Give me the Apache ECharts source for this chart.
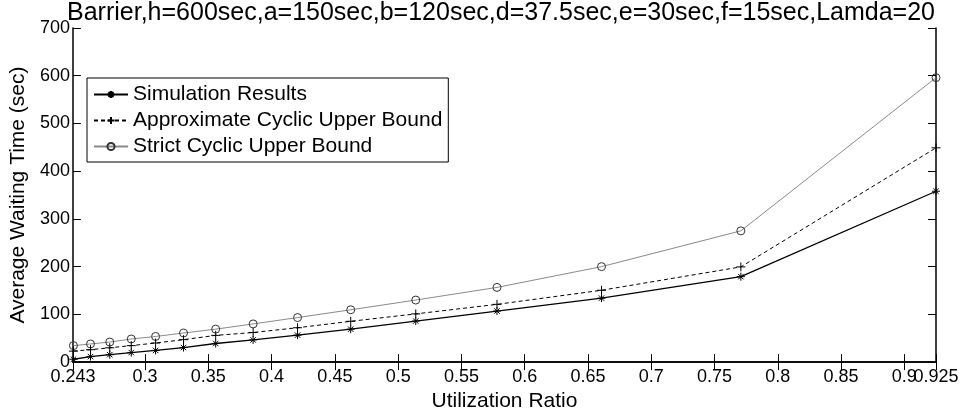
<!DOCTYPE html>
<html>
<head>
<meta charset="utf-8">
<script src="https://cdn.jsdelivr.net/npm/echarts/dist/echarts.min.js"></script>
<style>
html,body{margin:0;padding:0;background:#fff;}
#chart{width:962px;height:417px;}
</style>
</head>
<body>
<div id="chart"></div>
<script>
// ---- data ----
const titleText = 'Barrier,h=600sec,a=150sec,b=120sec,d=37.5sec,e=30sec,f=15sec,Lamda=20';
const seriesNames = ['Simulation Results', 'Approximate Cyclic Upper Bound', 'Strict Cyclic Upper Bound'];
const utilization = [0.2434, 0.2569, 0.2721, 0.2891, 0.3083, 0.3304, 0.3558, 0.3854, 0.4205, 0.4625, 0.5139, 0.5781, 0.6607, 0.7708, 0.925];
const simulation = [6, 11.5, 15.5, 20, 24.5, 30.5, 39, 46.5, 56.5, 69, 86, 107, 134, 179, 358];
const approxBound = [23, 26, 30, 34.5, 40, 47, 56, 62, 72, 85.5, 101, 121, 150.5, 199.5, 449];
const strictBound = [34.5, 38, 42, 48.4, 53.7, 61, 69, 80, 93.3, 109.6, 130, 156.5, 200, 275, 596];
const xTickValues = [0.243, 0.3, 0.35, 0.4, 0.45, 0.5, 0.55, 0.6, 0.65, 0.7, 0.75, 0.8, 0.85, 0.9, 0.925];
const xLabelsMain = [0.243, 0.3, 0.35, 0.4, 0.45, 0.5, 0.55, 0.6, 0.65, 0.7, 0.75, 0.8, 0.85, 0.925];
const xLabelsExtra = [0.9];
const yMin = 0, yMax = 700, yStep = 100;
const xMin = 0.243, xMax = 0.925;

const FONT = '"Liberation Sans", Arial, Helvetica, sans-serif';
const asterisk = 'path://M0,5L10,5M5,0L5,10M1.6,1.6L8.4,8.4M1.6,8.4L8.4,1.6';
const plus = 'path://M0,5L10,5M5,0L5,10';

function pairs(ys){ return utilization.map((u,i)=>[u, ys[i]]); }

const chart = echarts.init(document.getElementById('chart'), null, {renderer:'canvas'});
const axisLineStyle = {color:'#000', width:1.5};
const labelStyle = {fontFamily:FONT, fontSize:18, color:'#000'};
chart.setOption({
  animation:false,
  backgroundColor:'#fff',
  textStyle:{fontFamily:FONT, color:'#000'},
  title:{
    text:titleText, left:501, top:1, textAlign:'center', padding:0,
    textStyle:{fontFamily:FONT, fontSize:25, fontWeight:'normal', color:'#000'}
  },
  legend:{
    orient:'vertical', left:87, top:78,
    data:seriesNames,
    backgroundColor:'#fff', borderColor:'#000', borderWidth:1,
    padding:[6,6,5,6], itemGap:5, itemWidth:34, itemHeight:9,
    textStyle:{fontFamily:FONT, fontSize:21, color:'#000'},
    selectedMode:false
  },
  grid:{left:67, right:26, top:28, bottom:46, containLabel:false},
  xAxis:[{
    type:'value', min:xMin, max:xMax, position:'bottom',
    name:'Utilization Ratio', nameLocation:'middle', nameGap:23,
    nameTextStyle:{fontFamily:FONT, fontSize:21, color:'#000'},
    axisLine:{show:true, lineStyle:axisLineStyle},
    axisTick:{show:true, inside:true, length:8, customValues:xTickValues, lineStyle:{color:'#000', width:1}},
    axisLabel:Object.assign({show:true, customValues:xLabelsMain, margin:6,
      formatter:(v)=>String(v), hideOverlap:false, showMinLabel:true, showMaxLabel:true}, labelStyle),
    splitLine:{show:false}
  },{
    type:'value', min:xMin, max:xMax, position:'top',
    axisLine:{show:true, lineStyle:axisLineStyle},
    axisTick:{show:true, inside:true, length:8, customValues:xTickValues, lineStyle:{color:'#000', width:1}},
    axisLabel:{show:false},
    splitLine:{show:false}
  },{
    type:'value', min:xMin, max:xMax, position:'bottom', offset:0,
    axisLine:{show:false},
    axisTick:{show:false},
    axisLabel:Object.assign({show:true, customValues:xLabelsExtra, margin:6,
      formatter:(v)=>String(v), hideOverlap:false, showMinLabel:false, showMaxLabel:false}, labelStyle),
    splitLine:{show:false}
  }],
  yAxis:[{
    type:'value', min:yMin, max:yMax, interval:yStep, position:'left',
    name:'Average Waiting Time (sec)', nameLocation:'middle', nameGap:35,
    nameTextStyle:{fontFamily:FONT, fontSize:21, color:'#000'},
    axisLine:{show:true, lineStyle:axisLineStyle},
    axisTick:{show:true, inside:true, length:8, lineStyle:{color:'#000', width:1}},
    axisLabel:Object.assign({margin:3}, labelStyle),
    splitLine:{show:false}
  },{
    type:'value', min:yMin, max:yMax, interval:yStep, position:'right',
    axisLine:{show:true, lineStyle:axisLineStyle},
    axisTick:{show:true, inside:true, length:8, lineStyle:{color:'#000', width:1}},
    axisLabel:{show:false},
    splitLine:{show:false}
  }],
  series:[{
    name:seriesNames[0], type:'line', data:pairs(simulation),
    symbol:asterisk, symbolSize:8, showAllSymbol:true,
    lineStyle:{color:'#000', width:1.3, type:'solid'},
    itemStyle:{color:'#000', borderColor:'#000', borderWidth:1},
    emphasis:{disabled:true}, z:4
  },{
    name:seriesNames[1], type:'line', data:pairs(approxBound),
    symbol:plus, symbolSize:9, showAllSymbol:true,
    lineStyle:{color:'#000', width:1, type:[4,3]},
    itemStyle:{color:'#000', borderColor:'#000', borderWidth:1},
    emphasis:{disabled:true}, z:3
  },{
    name:seriesNames[2], type:'line', data:pairs(strictBound),
    symbol:'circle', symbolSize:8, showAllSymbol:true,
    lineStyle:{color:'#8a8a8a', width:1, type:'solid'},
    itemStyle:{color:'rgba(255,255,255,0)', borderColor:'#333', borderWidth:1},
    emphasis:{disabled:true}, z:2
  }]
});
</script>
</body>
</html>
